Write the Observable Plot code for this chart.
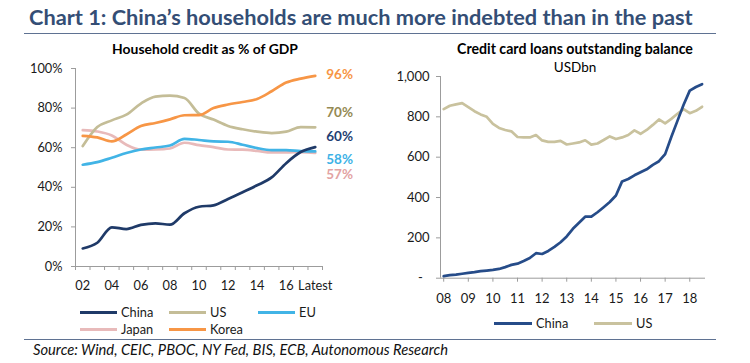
<!DOCTYPE html>
<html><head><meta charset="utf-8">
<script src="https://cdn.jsdelivr.net/npm/d3@7"></script>
<script src="https://cdn.jsdelivr.net/npm/@observablehq/plot@0.6"></script>
<style>
body{margin:0;background:#fff;}
#wrap{position:relative;width:750px;height:363px;overflow:hidden;background:#fff;font-family:Lato,sans-serif;}
.abs{position:absolute;white-space:nowrap;}
</style></head>
<body><div id="wrap"></div>
<script>
// ---------- DATA ----------
const leftCats = ["02","03","04","05","06","07","08","09","10","11","12","13","14","15","16","17","Latest"];
const leftTickLabels = ["02","04","06","08","10","12","14","16","Latest"];
const leftYTicks = [0,20,40,60,80,100];
const chinaPct = [9.1,12.0,19.8,18.9,21.0,21.8,21.1,26.9,30.2,30.9,34.1,37.5,41.0,45.0,52.2,57.8,60.3];
const usPct    = [60.8,70.4,73.8,76.7,82.3,85.8,86.3,85.1,77.2,74.2,71.0,69.3,68.1,67.4,68.1,70.4,70.3];
const euPct    = [51.4,52.7,54.9,57.3,59.1,60.1,61.1,64.5,63.9,63.2,63.0,61.5,59.8,58.8,58.8,58.3,58.1];
const japanPct = [68.9,68.2,66.2,61.5,59.0,59.1,59.6,62.5,61.3,60.3,59.1,59.0,58.4,57.6,57.6,57.8,57.4];
const koreaPct = [66.0,65.2,63.2,66.7,70.9,72.5,74.3,76.4,76.5,80.0,81.8,83.1,84.6,88.5,92.9,94.9,96.3];
const endLabelText = {China:"60%", US:"70%", EU:"58%", Japan:"57%", Korea:"96%"};

const ccStartYear = 2008; // quarterly series, first quarter of 2008
const ccYears = [2008,2009,2010,2011,2012,2013,2014,2015,2016,2017,2018];
const ccYearLabels = ["08","09","10","11","12","13","14","15","16","17","18"];
const ccYTicks = [0,200,400,600,800,1000];
const ccYTickLabels = ["-  ","200","400","600","800","1,000"];
const chinaCC = [10,15,18,22,26,30,35,38,41,46,55,66,72,85,100,124,120,135,155,178,207,245,275,305,305,327,352,378,410,480,492,510,525,540,562,580,615,700,780,860,930,948,962];
const usCC    = [838,855,862,868,848,828,812,800,765,745,735,728,700,698,698,710,683,676,676,681,663,668,673,684,662,668,685,703,690,698,710,733,716,735,760,787,768,790,815,838,818,830,850];

// ---------- STYLE ----------
const wrap = document.getElementById("wrap");
const FONT = "Lato, sans-serif";
const AXIS = "#9c9c9c";
const TXT = "#1a1a1a";

function txt(str, o){
  const d = document.createElement("div");
  d.className = "abs";
  d.textContent = str;
  const mk = document.createElement("span");
  mk.style.cssText = "display:inline-block;width:0;height:0;vertical-align:baseline";
  d.appendChild(mk);
  let size = o.size;
  Object.assign(d.style, {fontFamily: FONT, fontSize: size+"px", fontWeight: o.weight||"normal",
    fontStyle: o.style||"normal", color: o.color||"#000", lineHeight:"1", left:"0px", top:"0px"});
  wrap.appendChild(d);
  if (o.width) {
    const w0 = d.getBoundingClientRect().width;
    size = size * o.width / w0;
    d.style.fontSize = size + "px";
  }
  const r = d.getBoundingClientRect();
  const base = mk.getBoundingClientRect().top - r.top;
  let left = o.x;
  if (o.anchor === "middle") left = o.x - r.width/2;
  d.style.left = left + "px";
  d.style.top = (o.baseline - base) + "px";
  return d;
}
function box(o){
  const d = document.createElement("div");
  d.className = "abs";
  Object.assign(d.style, {left:o.x+"px", top:o.y+"px", width:o.w+"px", height:o.h+"px", background:o.color});
  wrap.appendChild(d);
}

// Title and rules
txt("Chart 1: China\u2019s households are much more indebted than in the past",
    {x:29, baseline:24.5, size:21, weight:"bold", color:"#344E75", width:664});
box({x:24, y:32.5, w:692, h:1.6, color:"#5F7292"});
txt("Household credit as % of GDP", {x:205, anchor:"middle", baseline:53.5, size:13, weight:"bold", width:186});
txt("Credit card loans outstanding balance", {x:575, anchor:"middle", baseline:53.5, size:13, weight:"bold", width:236});
txt("USDbn", {x:575, anchor:"middle", baseline:72, size:13.5});

// ---------- LEFT CHART ----------
const leftSeries = [
  {name:"Japan", values:japanPct, color:"#E8BABA", labelColor:"#E3A3A3", dy:22},
  {name:"US",    values:usPct,    color:"#C4BD97", labelColor:"#948A54", dy:-15},
  {name:"Korea", values:koreaPct, color:"#F79646", labelColor:"#F79646", dy:-1},
  {name:"EU",    values:euPct,    color:"#41B4E6", labelColor:"#3DB2E6", dy:8},
  {name:"China", values:chinaPct, color:"#1F3A68", labelColor:"#1F3F73", dy:-10}
];
const leftXDomain = [-0.5, leftCats.length - 0.5];
const leftMarks = [
  Plot.ruleX([leftXDomain[0]], {stroke:AXIS}),
  Plot.ruleY([0], {stroke:AXIS}),
  Plot.axisY({ticks:leftYTicks, tickFormat:d=>d+"%", tickSize:4, tickPadding:9, stroke:AXIS, fill:TXT, label:null, fontSize:12.8}),
  Plot.axisX({ticks:d3.range(leftXDomain[0], leftXDomain[1]+0.01, 1), tickFormat:()=>"", tickSize:4, stroke:AXIS, label:null}),
  Plot.axisX({ticks:leftTickLabels.map(l=>leftCats.indexOf(l)), tickFormat:i=>leftCats[i], tickSize:0, tickPadding:14, fill:TXT, label:null, fontSize:12.8})
];
for (const s of leftSeries) {
  const pts = s.values.map((v,i)=>({i, v}));
  leftMarks.push(Plot.line(pts, {x:"i", y:"v", stroke:s.color, strokeWidth:2.7, curve:"monotone-x", strokeLinejoin:"round"}));
}
for (const s of leftSeries) {
  const last = [{i:s.values.length-1, v:s.values[s.values.length-1]}];
  leftMarks.push(Plot.text(last, {x:"i", y:"v", text:()=>endLabelText[s.name], dx:11, dy:s.dy,
    textAnchor:"start", fill:s.labelColor, fontWeight:"bold", fontSize:13.5}));
}
const leftPlot = Plot.plot({
  width:375, height:240, marginLeft:75, marginRight:53, marginTop:8, marginBottom:34,
  style:{fontFamily:FONT, fontSize:"12px", background:"transparent", overflow:"visible"},
  x:{domain:leftXDomain, label:null}, y:{domain:[0,100], label:null},
  marks:leftMarks
});
const lw = document.createElement("div"); lw.className="abs";
Object.assign(lw.style,{left:"0px", top:"60px"}); lw.appendChild(leftPlot); wrap.appendChild(lw);

// ---------- RIGHT CHART ----------
const ccXDomain = [2007.87, 2018.64];
const ccChina = chinaCC.map((v,i)=>({t: ccStartYear + i/4, v}));
const ccUS = usCC.map((v,i)=>({t: ccStartYear + i/4, v}));
const rightPlot = Plot.plot({
  width:375, height:240, marginLeft:65, marginRight:45, marginTop:6, marginBottom:32.3,
  style:{fontFamily:FONT, fontSize:"12px", background:"transparent", overflow:"visible", whiteSpace:"pre"},
  x:{domain:ccXDomain, label:null}, y:{domain:[0,1000], label:null},
  marks:[
    Plot.ruleX([ccXDomain[0]], {stroke:AXIS}),
    Plot.ruleY([0], {stroke:AXIS}),
    Plot.axisY({ticks:ccYTicks, tickFormat:d=>ccYTickLabels[ccYTicks.indexOf(d)], tickSize:4, tickPadding:7, stroke:AXIS, fill:TXT, label:null, fontSize:13}),
    Plot.axisX({ticks:ccYears, tickFormat:d=>ccYearLabels[ccYears.indexOf(d)], tickSize:4, tickPadding:12, stroke:AXIS, fill:TXT, label:null, fontSize:13}),
    Plot.line(ccUS, {x:"t", y:"v", stroke:"#C9C29E", strokeWidth:2.7, strokeLinejoin:"round"}),
    Plot.line(ccChina, {x:"t", y:"v", stroke:"#264C89", strokeWidth:2.7, strokeLinejoin:"round"})
  ]
});
const rw = document.createElement("div"); rw.className="abs";
Object.assign(rw.style,{left:"375px", top:"70px"}); rw.appendChild(rightPlot); wrap.appendChild(rw);

// ---------- LEGENDS ----------
const leftLegend = [
  {name:"China", color:"#1F3A68", x:80,  y:312.7},
  {name:"US",    color:"#C4BD97", x:169, y:312.7},
  {name:"EU",    color:"#41B4E6", x:258, y:312.7},
  {name:"Japan", color:"#E8BABA", x:80,  y:329},
  {name:"Korea", color:"#F79646", x:169, y:329}
];
for (const l of leftLegend) {
  box({x:l.x, y:l.y-1.5, w:37, h:3, color:l.color});
  txt(l.name, {x:l.x+41, baseline:l.y+4.5, size:12.8, color:TXT});
}
const rightLegend = [
  {name:"China", color:"#264C89", x:494, y:323},
  {name:"US",    color:"#C9C29E", x:594, y:323}
];
for (const l of rightLegend) {
  box({x:l.x, y:l.y-1.5, w:38, h:3, color:l.color});
  txt(l.name, {x:l.x+42, baseline:l.y+4.5, size:12.8, color:TXT});
}

// ---------- FOOTER ----------
box({x:24, y:338.5, w:692, h:1.4, color:"#5F7292"});
txt("Source: Wind, CEIC, PBOC, NY Fed, BIS, ECB, Autonomous Research",
    {x:33, baseline:355, size:13.5, style:"italic", color:"#111", width:415});
</script>
</body></html>
